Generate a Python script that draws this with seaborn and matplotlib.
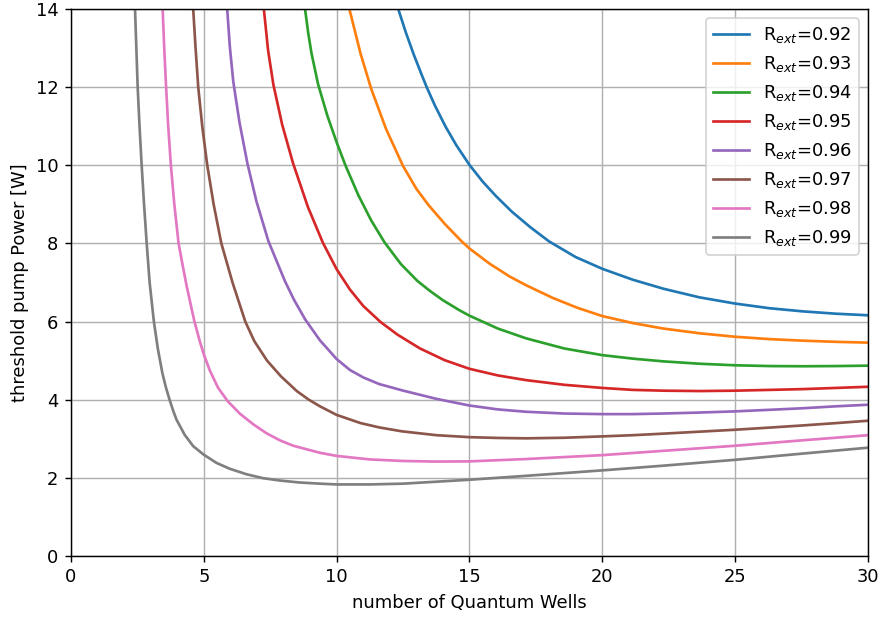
import matplotlib
matplotlib.use("Agg")
import matplotlib.pyplot as plt
import seaborn as sns
import pandas as pd

# External mirror reflectivities, one curve each
reflectivities = [0.92, 0.93, 0.94, 0.95, 0.96, 0.97, 0.98, 0.99]

# Number of quantum wells (x) and threshold pump power in W (y) per curve
n_092 = [12.32, 12.6, 12.9, 13.2, 13.39, 13.7, 14.1, 14.5, 15.0, 15.5, 16.0, 16.6, 17.3, 18.0, 19.0, 20.0,
         21.15, 22.3, 23.65, 25.0, 26.3, 27.55, 28.8, 30.0]
p_092 = [14.0, 13.41, 12.84, 12.32, 12.0, 11.53, 10.99, 10.52, 10.01, 9.58, 9.21, 8.81, 8.41, 8.05, 7.65, 7.35,
         7.07, 6.84, 6.62, 6.46, 6.34, 6.26, 6.20, 6.16]

n_093 = [10.48, 10.9, 11.3, 11.86, 12.5, 13.0, 13.46, 14.07, 14.68, 15.0, 15.76, 16.52, 17.13, 18.15, 19.07,
         20.0, 21.15, 22.3, 23.65, 25.0, 26.3, 27.55, 28.8, 30.0]
p_093 = [14.0, 12.86, 11.96, 10.93, 9.98, 9.40, 8.98, 8.50, 8.07, 7.87, 7.48, 7.15, 6.93, 6.60, 6.35,
         6.14, 5.96, 5.82, 5.70, 5.61, 5.55, 5.51, 5.48, 5.46]

n_094 = [8.81, 8.93, 9.05, 9.30, 9.65, 10.0, 10.33, 10.82, 11.3, 11.8, 12.42, 13.04, 13.5, 13.99, 14.62, 15.0,
         16.07, 17.13, 18.57, 20.0, 21.15, 22.3, 23.65, 25.0, 26.3, 27.55, 28.8, 30.0]
p_094 = [14.0, 13.39, 12.88, 12.08, 11.27, 10.59, 10.0, 9.23, 8.59, 8.03, 7.47, 7.04, 6.79, 6.55, 6.29, 6.15,
         5.82, 5.57, 5.31, 5.14, 5.05, 4.98, 4.92, 4.88, 4.86, 4.855, 4.86, 4.87]

n_095 = [7.26, 7.42, 7.62, 7.95, 8.36, 8.92, 9.48, 10.0, 10.5, 11.0, 11.65, 12.3, 13.14, 14.07, 15.0, 16.07,
         17.13, 18.57, 20.0, 21.15, 22.3, 23.65, 25.0, 26.3, 27.55, 28.8, 30.0]
p_095 = [14.0, 12.94, 12.06, 11.04, 10.05, 8.93, 8.02, 7.34, 6.82, 6.40, 5.99, 5.66, 5.31, 5.01, 4.79, 4.62,
         4.50, 4.38, 4.30, 4.25, 4.23, 4.22, 4.23, 4.25, 4.27, 4.30, 4.33]

n_096 = [5.88, 5.98, 6.11, 6.34, 6.64, 6.98, 7.43, 8.05, 8.4, 8.82, 9.37, 10.0, 10.5, 11.0, 11.6, 12.51, 13.76,
         15.0, 16.07, 17.13, 18.57, 20.0, 21.15, 22.3, 23.65, 25.0, 26.3, 27.55, 28.8, 30.0]
p_096 = [14.0, 13.03, 12.14, 11.11, 10.05, 9.08, 8.06, 7.04, 6.55, 6.05, 5.52, 5.04, 4.76, 4.57, 4.40, 4.23, 4.02,
         3.85, 3.75, 3.69, 3.645, 3.63, 3.63, 3.645, 3.67, 3.70, 3.74, 3.78, 3.83, 3.87]

n_097 = [4.60, 4.69, 4.79, 4.94, 5.13, 5.37, 5.66, 6.08, 6.56, 6.90, 7.38, 7.90, 8.5, 8.95, 9.37, 10.0, 10.9,
         11.6, 12.45, 13.76, 15.0, 16.07, 17.13, 18.57, 20.0, 21.15, 22.3, 23.65, 25.0, 26.3, 27.55, 28.8, 30.0]
p_097 = [14.0, 13.0, 12.0, 11.0, 10.0, 9.0, 8.0, 7.0, 6.0, 5.5, 5.0, 4.6, 4.22, 4.0, 3.83, 3.61, 3.40,
         3.29, 3.19, 3.09, 3.04, 3.02, 3.01, 3.025, 3.06, 3.09, 3.13, 3.18, 3.23, 3.285, 3.34, 3.40, 3.46]

n_098 = [3.45, 3.51, 3.58, 3.66, 3.76, 3.89, 4.05, 4.2, 4.35, 4.64, 4.85, 5.0, 5.23, 5.54, 5.90, 6.36, 6.86,
         7.36, 7.86, 8.37, 9.37, 10.0, 11.25, 12.51, 13.76, 15.0, 17.13, 20.0, 22.3, 25.0, 27.55, 30.0]
p_098 = [14.0, 13.0, 12.0, 11.0, 10.0, 9.0, 8.0, 7.45, 6.92, 6.02, 5.49, 5.16, 4.74, 4.30, 3.96, 3.64, 3.37,
         3.14, 2.96, 2.82, 2.64, 2.56, 2.47, 2.43, 2.415, 2.42, 2.48, 2.58, 2.69, 2.82, 2.96, 3.09]

n_099 = [2.41, 2.46, 2.51, 2.58, 2.66, 2.75, 2.85, 2.96, 3.12, 3.27, 3.44, 3.57, 3.71, 3.84, 3.97, 4.28, 4.60,
         5.0, 5.48, 5.98, 6.61, 7.23, 7.86, 8.6, 9.37, 10.0, 11.25, 12.51, 13.76, 15.0, 17.13, 20.0, 22.3,
         25.0, 27.55, 30.0]
p_099 = [14.0, 13.0, 12.0, 11.0, 10.0, 9.0, 8.0, 7.0, 6.0, 5.30, 4.68, 4.32, 4.0, 3.73, 3.49, 3.10, 2.81,
         2.59, 2.38, 2.23, 2.09, 1.99, 1.93, 1.88, 1.85, 1.83, 1.83, 1.85, 1.90, 1.95, 2.05, 2.19, 2.31,
         2.46, 2.62, 2.77]

curves_n = [n_092, n_093, n_094, n_095, n_096, n_097, n_098, n_099]
curves_p = [p_092, p_093, p_094, p_095, p_096, p_097, p_098, p_099]

labels = [r"R$_{ext}$=%.2f" % r for r in reflectivities]

frames = []
for lab, xs, ys in zip(labels, curves_n, curves_p):
    frames.append(pd.DataFrame({"N": xs, "P": ys, "R": lab}))
df = pd.concat(frames, ignore_index=True)

dpi = 129
fig, ax = plt.subplots(figsize=(882 / dpi, 617 / dpi), dpi=dpi)
fig.subplots_adjust(left=0.0805, right=0.984, bottom=0.099, top=0.9854)

sns.lineplot(data=df, x="N", y="P", hue="R", hue_order=labels,
             palette=sns.color_palette("tab10", 8), estimator=None,
             sort=False, linewidth=1.5, ax=ax)

ax.set_xlim(0, 30)
ax.set_ylim(0, 14)
ax.set_xticks(range(0, 31, 5))
ax.set_yticks(range(0, 15, 2))
ax.grid(True)
ax.set_xlabel("number of Quantum Wells")
ax.set_ylabel("threshold pump Power [W]")

handles, labs = ax.get_legend_handles_labels()
ax.legend(handles, labs, loc="upper right")

fig.savefig("out.png", dpi=dpi)
